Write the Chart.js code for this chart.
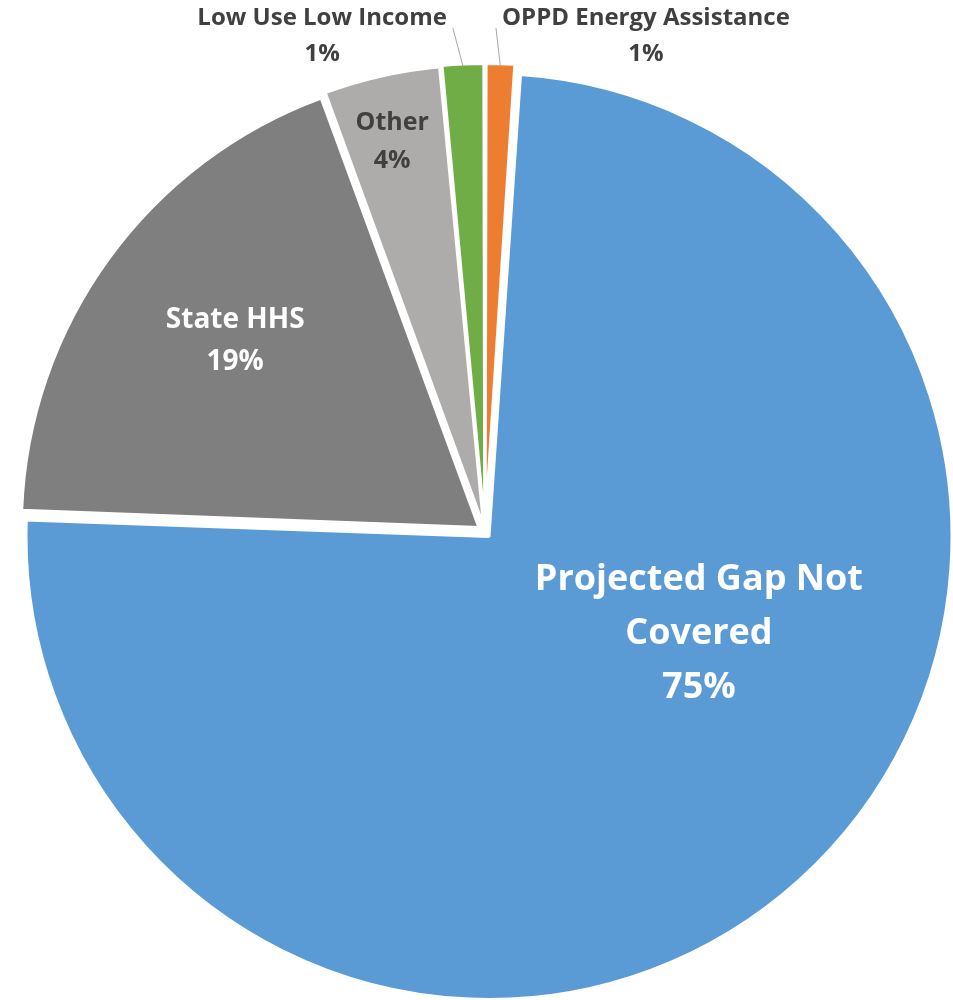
<!DOCTYPE html>
<html>
<head>
<meta charset="utf-8">
<script src="https://cdn.jsdelivr.net/npm/chart.js@4.4.0/dist/chart.umd.min.js"></script>
<style>
    html, body { margin: 0; padding: 0; background: #fff; }
    #wrap { width: 953px; height: 1000px; }
</style>
</head>
<body>
<div id="wrap"><canvas id="myChart" width="953" height="1000"></canvas></div>
<script>
// slices in clockwise order from 12 o'clock
var categories = ['OPPD Energy Assistance', ['Projected Gap Not', 'Covered'], 'State HHS', 'Other', 'Low Use Low Income']
var shares = [1.05, 74.55, 18.8, 4.1, 1.5]
var percentText = ['1%', '75%', '19%', '4%', '1%']
var colors = ['#ED7D31', '#5B9BD5', '#7F7F7F', '#AEABAB', '#70AD47']

// where each label sits: fraction of radius, angle shift from slice middle (deg)
var labelStyle = [
    { r: 1.14, shift: 16.1, size: 24, color: '#404040', leader: true },
    { r: 0.518, shift: -22.6, size: 36, color: '#ffffff' },
    { r: 0.688, shift: 1.4, size: 28, color: '#ffffff' },
    { r: 0.878, shift: -0.6, size: 25, color: '#404040' },
    { r: 1.141, shift: -15.5, size: 24, color: '#404040', leader: true }
]

var pieLabels = {
    id: 'pieLabels',
    afterDatasetsDraw: function (chart) {
        var ctx = chart.ctx
        var meta = chart.getDatasetMeta(0)
        meta.data.forEach(function (arc, i) {
            var p = arc.getProps(['x', 'y', 'startAngle', 'endAngle', 'outerRadius'])
            var s = labelStyle[i]
            var mid = (p.startAngle + p.endAngle) / 2
            var a = mid + s.shift * Math.PI / 180
            var cx = p.x + Math.cos(a) * p.outerRadius * s.r
            var cy = p.y + Math.sin(a) * p.outerRadius * s.r
            var lines = [].concat(chart.data.labels[i], percentText[i])
            var lh = s.size * 1.5
            var top = cy - lh * (lines.length - 1) / 2
            var widest = 0

            ctx.save()
            ctx.font = 'bold ' + s.size + 'px "Open Sans"'
            ctx.fillStyle = s.color
            ctx.textAlign = 'center'
            ctx.textBaseline = 'middle'
            lines.forEach(function (t, k) {
                ctx.fillText(t, cx, top + k * lh)
                widest = Math.max(widest, ctx.measureText(t).width)
            })

            if (s.leader) {
                var sx = p.x + Math.cos(mid) * (p.outerRadius + 9)
                var sy = p.y + Math.sin(mid) * (p.outerRadius + 9)
                var side = sx > cx ? 1 : -1
                ctx.strokeStyle = '#A6A6A6'
                ctx.lineWidth = 1
                ctx.beginPath()
                ctx.moveTo(sx, sy)
                ctx.lineTo(cx + side * (widest / 2 + 6), cy - 8.5)
                ctx.stroke()
            }
            ctx.restore()
        })
    }
}

var myChart = document.getElementById('myChart').getContext('2d')

var chart = new Chart(myChart, {
    type: 'pie',
    data: {
        labels: categories,
        datasets: [{
            data: shares,
            backgroundColor: colors,
            borderColor: '#ffffff',
            borderWidth: 3,
            offset: [24, 24, 30, 24, 24]
        }]
    },
    options: {
        responsive: false,
        animation: false,
        radius: 457,
        layout: { padding: { left: 17, right: 0, top: 64, bottom: 0 } },
        plugins: {
            legend: { display: false },
            tooltip: { enabled: false }
        }
    },
    plugins: [pieLabels]
})
</script>
</body>
</html>
